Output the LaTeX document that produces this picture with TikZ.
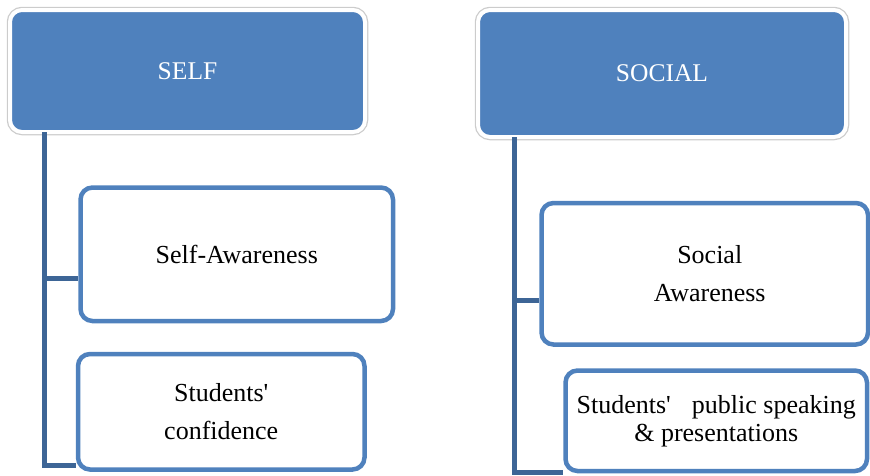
\documentclass[tikz,border=0pt]{standalone}
\usepackage{fontspec}
\setmainfont{Liberation Serif}
\usepackage{tikz}
\usetikzlibrary{positioning}
\definecolor{head}{HTML}{4F81BD}
\definecolor{frame}{HTML}{4F81BD}
\definecolor{spine}{HTML}{3D6596}
\definecolor{rim}{HTML}{CCCCCC}
\tikzset{
  headbox/.style={fill=head, draw=white, line width=4pt, rounded corners=12pt, text=white,
    font=\fontsize{25.5}{30}\selectfont, preaction={draw=rim, line width=6.5pt}},
  itembox/.style={fill=white, draw=frame, line width=4.5pt, rounded corners=12pt, text=black,
    align=center, font=\fontsize{26}{38}\selectfont},
  branch/.style={draw=spine, line width=5pt},
}

\begin{document}
\begin{tikzpicture}[x=1pt, y=-1pt]
\path[use as bounding box, clip] (0,0) rectangle (870,475);

% headers
\node[headbox, minimum width=355pt, minimum height=122pt] (self) at (187.5,71) {SELF};
\node[headbox, minimum width=368pt, minimum height=127pt] (social) at (662,73.5) {SOCIAL};

% self branch
\node[itembox, minimum width=312.5pt, minimum height=133.5pt] (aware) at (236.75,254.25) {Self-Awareness};
\node[itembox, minimum width=286.5pt, minimum height=115.5pt] (conf) at (221.25,411.75)
  {Students\textquotesingle\\confidence};

% social branch
\node[itembox, minimum width=326.5pt, minimum height=141.5pt] (socaware) at (704.75,273.75)
  {\hspace{10pt}Social\\\hspace{10pt}Awareness};
\node[itembox, minimum width=301.5pt, minimum height=100.5pt,
  font=\fontsize{26}{28}\selectfont] (speak) at (716.25,420.75)
  {Students\textquotesingle\hspace{21pt}public speaking\\\& presentations};

% connectors
\coordinate (selfTop) at (44.5,132);
\coordinate (selfJoin) at (44.5,278.5);
\coordinate (selfEnd) at (44.5,465.5);
\draw[branch] (selfTop) -- (selfEnd) -- (selfEnd -| conf.west);
\draw[branch] (selfJoin) -- (selfJoin -| aware.west);

\coordinate (socTop) at (514.5,137);
\coordinate (socJoin) at (514.5,300.5);
\coordinate (socEnd) at (514.5,472.5);
\draw[branch] (socTop) -- (socEnd) -- (socEnd -| speak.west);
\draw[branch] (socJoin) -- (socJoin -| socaware.west);
\end{tikzpicture}
\end{document}
